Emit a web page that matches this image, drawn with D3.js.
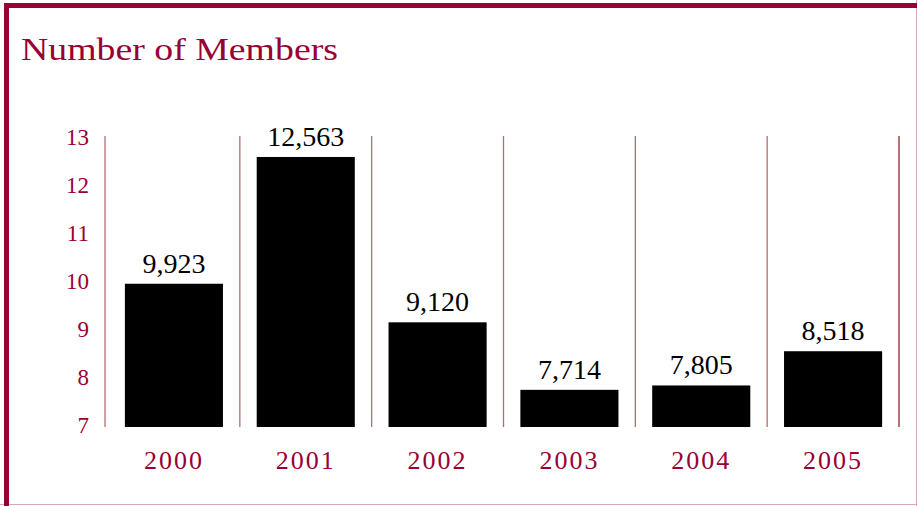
<!DOCTYPE html>
<html>
<head>
<meta charset="utf-8">
<script src="https://cdn.jsdelivr.net/npm/d3@7/dist/d3.min.js"></script>
<style>
  html, body { margin: 0; padding: 0; background: #fff; }
  svg { display: block; }
  text { font-family: "Liberation Serif", "DejaVu Serif", serif; }
</style>
</head>
<body>
<svg id="chart" width="917" height="506"></svg>
<script>
// Membership by year
const years = ["2000", "2001", "2002", "2003", "2004", "2005"];
const members = [9923, 12563, 9120, 7714, 7805, 8518];
const yTicks = [7, 8, 9, 10, 11, 12, 13];
const title = "Number of Members";

const maroon = "#990033";
const svg = d3.select("#chart");
const W = 917, H = 506;

// frame: heavy top and left rules, light right and bottom rules
svg.append("rect").attr("x", 0).attr("y", 0).attr("width", W).attr("height", H).attr("fill", "#fff");
svg.append("line").attr("x1", W - 0.5).attr("x2", W - 0.5).attr("y1", 0).attr("y2", H)
  .attr("stroke", "#d9a9b9").attr("stroke-width", 1);
svg.append("line").attr("x1", 0).attr("x2", W).attr("y1", H - 1.5).attr("y2", H - 1.5)
  .attr("stroke", "#d9a9b9").attr("stroke-width", 1);
svg.append("rect").attr("x", 4).attr("y", 3).attr("width", W - 4).attr("height", 5).attr("fill", maroon);
svg.append("rect").attr("x", 4).attr("y", 3).attr("width", 5).attr("height", H - 3).attr("fill", maroon);

svg.append("text").attr("x", 21).attr("y", 60)
  .attr("font-size", 31).attr("fill", maroon)
  .attr("font-family", "DejaVu Serif, serif")
  .attr("textLength", 317).attr("lengthAdjust", "spacingAndGlyphs")
  .text(title);

// scales (values in thousands)
const x = d3.scaleBand().domain(years).range([108, 899]).paddingInner(0.256).paddingOuter(0.128);
const y = d3.scaleLinear().domain([6.94, 13]).range([427, 136]);

// vertical dividers between the year columns
const step = x.step();
const x0 = x.range()[0];
const dividers = d3.range(years.length + 1).map(i => x0 + i * step);
svg.append("g").selectAll("line").data(dividers).join("line")
  .attr("x1", (d, i) => i === 0 ? d - 3 : d)
  .attr("x2", (d, i) => i === 0 ? d - 3 : d)
  .attr("y1", 136).attr("y2", 427)
  .attr("stroke", (d, i) => i === years.length ? "#8b2c2c" : "#b07070")
  .attr("stroke-width", 1.3);

// y axis labels
const yAxis = d3.axisLeft(y).tickValues(yTicks).tickSize(0).tickPadding(0).tickFormat(d3.format("d"));
const ya = svg.append("g").attr("transform", "translate(89,0)").call(yAxis);
ya.select(".domain").remove();
ya.selectAll("text").attr("font-size", 23).attr("fill", maroon)
  .attr("font-family", "Liberation Serif, serif").attr("dy", "0.35em");

// bars
const data = years.map((yr, i) => ({ year: yr, value: members[i] }));
svg.append("g").selectAll("rect").data(data).join("rect")
  .attr("x", d => x(d.year))
  .attr("width", x.bandwidth())
  .attr("y", d => y(d.value / 1000))
  .attr("height", d => y(6.94) - y(d.value / 1000))
  .attr("fill", "#000");

// value labels
svg.append("g").selectAll("text").data(data).join("text")
  .attr("x", d => x(d.year) + x.bandwidth() / 2)
  .attr("y", d => y(d.value / 1000) - 11)
  .attr("text-anchor", "middle")
  .attr("font-size", 28).attr("fill", "#000")
  .text(d => d3.format(",")(d.value));

// x axis labels
const xAxis = d3.axisBottom(x).tickSize(0).tickPadding(0);
const xa = svg.append("g").attr("transform", "translate(0,469)").call(xAxis);
xa.select(".domain").remove();
xa.selectAll("text").attr("font-size", 26).attr("fill", maroon)
  .attr("font-family", "Liberation Serif, serif")
  .attr("letter-spacing", 2).attr("dy", 0);
</script>
</body>
</html>
